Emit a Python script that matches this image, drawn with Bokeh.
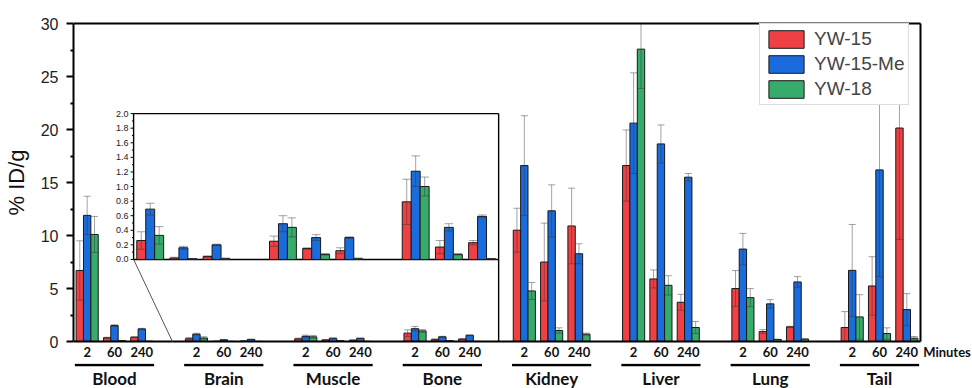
from bokeh.plotting import figure
from bokeh.layouts import column
from bokeh.models import (Range1d, FixedTicker, ColumnDataSource, Legend, LegendItem)
from bokeh.core.properties import value
from bokeh.embed import file_html
from bokeh.resources import INLINE

# ---------------- data ----------------
organs = ["Blood", "Brain", "Muscle", "Bone", "Kidney", "Liver", "Lung", "Tail"]
times = ["2", "60", "240"]
time_unit = "Minutes"
series_names = ["YW-15", "YW-15-Me", "YW-18"]

yw15 = [6.7, 0.35, 0.41, 0.26, 0.02, 0.04, 0.25, 0.15, 0.12, 0.79, 0.17, 0.23,
        10.5, 7.5, 10.9, 16.6, 5.9, 3.7, 5.0, 0.94, 1.38, 1.32, 5.24, 20.14]
yw15_err = [2.8, 0.05, 0.03, 0.12, 0.01, 0.01, 0.07, 0.01, 0.04, 0.31, 0.09, 0.03,
            2.07, 3.67, 3.57, 3.36, 0.85, 0.75, 1.69, 0.19, 0.05, 1.5, 2.76, 10.5]
yw15me = [11.9, 1.5, 1.19, 0.69, 0.16, 0.2, 0.49, 0.30, 0.30, 1.21, 0.44, 0.59,
          16.6, 12.33, 8.28, 20.6, 18.64, 15.5, 8.72, 3.55, 5.62, 6.71, 16.19, 3.01]
yw15me_err = [1.8, 0.08, 0.05, 0.08, 0.02, 0.01, 0.11, 0.04, 0.01, 0.21, 0.05, 0.02,
              4.7, 2.45, 0.94, 4.75, 1.79, 0.35, 1.48, 0.4, 0.5, 4.33, 10.07, 1.51]
yw18 = [10.1, 0.08, 0.02, 0.33, 0.01, 0.01, 0.44, 0.07, 0.01, 1.00, 0.07, 0.01,
        4.77, 1.04, 0.69, 27.58, 5.3, 1.32, 4.14, 0.19, 0.22, 2.32, 0.75, 0.31]
yw18_err = [1.7, 0.02, 0.01, 0.12, 0.0, 0.01, 0.13, 0.01, 0.01, 0.13, 0.01, 0.0,
            0.8, 0.25, 0.1, 3.7, 0.91, 0.56, 0.85, 0.03, 0.05, 2.1, 0.54, 0.16]

main_ticks = [0, 5, 10, 15, 20, 25, 30]
inset_organs = ["Brain", "Muscle", "Bone"]
inset_ticks = [0.0, 0.2, 0.4, 0.6, 0.8, 1.0, 1.2, 1.4, 1.6, 1.8, 2.0]

# ---------------- styling / layout ----------------
colors = ["#EF4044", "#1A6BDB", "#37AB69"]
BAR_W = 0.27
CAP = 0.13
STEP = 4
LABEL_FONT = "Lato"
NUM_FONT = "Liberation Sans"

W, H = 972, 388
BOX_L, BOX_R, BOX_T, BOX_B = 73, 920, 23, 341      # axes box in pixels
PAD = 2                                             # frame padding around the box (px)
LEG_L, LEG_B = 759, 105                             # legend bottom-left in pixels
UNIT_CX = 946.5                                     # centre of the "Minutes" label (px)
TOP_H = 363                                         # height of the chart figure

YMAX = main_ticks[-1]
XA = -0.5
XB = STEP * (len(organs) - 1) + len(times) - 0.5
slot = (BOX_R - BOX_L) / (XB - XA)
ypp = (BOX_B - BOX_T) / YMAX
x_end = XB + (W - BOX_R) / slot
y_lo, y_hi = -PAD / ypp, YMAX + PAD / ypp
unit_x = XA + (UNIT_CX - BOX_L) / slot

# inset box position in main data coordinates
INSET_LEFT, INSET_RIGHT = 1.70, 15.06
INSET_BOTTOM, INSET_TOP = 7.74, 21.5
ZOOM_TO_X = 3.12

# rows below the axis (main data units)
LINE_Y0, LINE_Y1, ORGAN_Y = -2.34, -2.10, -3.52

series = [(yw15, yw15_err), (yw15me, yw15me_err), (yw18, yw18_err)]
x_pos = [STEP * i + j for i in range(len(organs)) for j in range(len(times))]

# ================= chart =================
p = figure(width=W, height=TOP_H, x_range=Range1d(XA, x_end), y_range=Range1d(y_lo, y_hi),
           output_backend="svg", toolbar_location=None,
           min_border_left=BOX_L, min_border_right=0, min_border_top=BOX_T - PAD,
           min_border_bottom=TOP_H - BOX_B - PAD)
p.grid.visible = False
p.outline_line_color = None
p.background_fill_color = "white"
p.border_fill_color = "white"

iu0, iu1 = -0.5, STEP * (len(inset_organs) - 1) + len(times) - 0.5
sx = (INSET_RIGHT - INSET_LEFT) / (iu1 - iu0)
sy = (INSET_TOP - INSET_BOTTOM) / (inset_ticks[-1] - inset_ticks[0])
p.extra_x_ranges = {"ix": Range1d(iu0 + (XA - INSET_LEFT) / sx, iu0 + (x_end - INSET_LEFT) / sx)}
p.extra_y_ranges = {"iy": Range1d((y_lo - INSET_BOTTOM) / sy, (y_hi - INSET_BOTTOM) / sy)}

err_kw = dict(line_color="#333333", line_alpha=0.45, line_width=1)


def draw_bars(xs_base, vals_list, clip_top, **rk):
    rends = []
    for k, ((vals, errs), col) in enumerate(zip(vals_list, colors)):
        off = (k - 1) * BAR_W
        xs = [x + off for x in xs_base]
        src = ColumnDataSource(dict(
            x=xs, top=vals,
            lo=[max(v - e, 0) for v, e in zip(vals, errs)],
            hi=[min(v + e, clip_top) for v, e in zip(vals, errs)],
            cl=[x - CAP for x in xs], cr=[x + CAP for x in xs]))
        r = p.vbar(x="x", top="top", bottom=0, width=BAR_W, source=src,
                   fill_color=col, line_color="#1a1a1a", line_width=1, **rk)
        p.segment("x", "lo", "x", "hi", source=src, **err_kw, **rk)
        p.segment("cl", "hi", "cr", "hi", source=src, **err_kw, **rk)
        p.segment("cl", "lo", "cr", "lo", source=src, **err_kw, **rk)
        rends.append(r)
    return rends


main_rends = draw_bars(x_pos, series, YMAX)

# axes box: bottom, top and right lines
p.segment(x0=[XA, XA, XB], y0=[0, YMAX, 0], x1=[XB, XB, XB], y1=[0, YMAX, YMAX],
          line_color="black", line_width=2)

# inset
p.quad(left=[INSET_LEFT], right=[INSET_RIGHT], bottom=[INSET_BOTTOM], top=[INSET_TOP],
       fill_color="white", line_color=None)
frame_kw = dict(line_color="black", line_width=1.4)
p.segment(x0=[INSET_LEFT, INSET_RIGHT, INSET_LEFT, INSET_LEFT],
          y0=[INSET_TOP, INSET_TOP, INSET_BOTTOM, INSET_BOTTOM],
          x1=[INSET_RIGHT, INSET_RIGHT, INSET_RIGHT, INSET_LEFT],
          y1=[INSET_TOP, 0, INSET_BOTTOM, INSET_TOP], **frame_kw)
p.segment(x0=[INSET_LEFT], y0=[INSET_BOTTOM], x1=[ZOOM_TO_X], y1=[0],
          line_color="#555555", line_width=1)

idx = [organs.index(o) for o in inset_organs]
inset_x = [STEP * m + j for m in range(len(inset_organs)) for j in range(len(times))]
inset_series = [([v[3 * i + j] for i in idx for j in range(3)],
                 [e[3 * i + j] for i in idx for j in range(3)]) for v, e in series]
draw_bars(inset_x, inset_series, inset_ticks[-1], x_range_name="ix", y_range_name="iy")

minor_inset = [(a + b) / 2 for a, b in zip(inset_ticks[:-1], inset_ticks[1:])]
p.segment(x0=[iu0] * len(inset_ticks), x1=[iu0 - 0.09] * len(inset_ticks),
          y0=inset_ticks, y1=inset_ticks, line_color="black", line_width=1,
          x_range_name="ix", y_range_name="iy")
p.segment(x0=[iu0] * len(minor_inset), x1=[iu0 - 0.05] * len(minor_inset),
          y0=minor_inset, y1=minor_inset, line_color="black", line_width=1,
          x_range_name="ix", y_range_name="iy")
p.text(x=[iu0] * len(inset_ticks), y=inset_ticks, text=[f"{t:.1f}" for t in inset_ticks],
       x_offset=-5, text_align="right", text_baseline="middle",
       text_font=value(NUM_FONT), text_font_size="9px", text_color="#222222",
       x_range_name="ix", y_range_name="iy")

# y axis
ya = p.yaxis[0]
ya.bounds = (0, YMAX)
ya.ticker = FixedTicker(ticks=main_ticks,
                        minor_ticks=[(a + b) / 2 for a, b in zip(main_ticks[:-1], main_ticks[1:])])
ya.axis_line_width = 2
ya.major_tick_line_width = 2
ya.minor_tick_line_width = 2
ya.major_tick_out = 7
ya.major_tick_in = 0
ya.minor_tick_out = 3
ya.minor_tick_in = 0
ya.major_label_text_font = NUM_FONT
ya.major_label_text_font_size = "16px"
ya.major_label_text_color = "#222222"
ya.major_label_standoff = 8
ya.axis_label = "% ID/g"
ya.axis_label_text_font = NUM_FONT
ya.axis_label_text_font_size = "22px"
ya.axis_label_text_font_style = "normal"
ya.axis_label_text_color = "#111111"
ya.axis_label_standoff = 9

# x axis: time points (+ unit label)
xa = p.xaxis[0]
xa.ticker = FixedTicker(ticks=x_pos + [unit_x])
overrides = {x: times[k % 3] for k, x in enumerate(x_pos)}
overrides[unit_x] = time_unit
xa.major_label_overrides = overrides
xa.axis_line_color = None
xa.major_tick_line_color = None
xa.minor_tick_line_color = None
xa.major_tick_out = 0
xa.major_tick_in = 0
xa.major_label_text_font = LABEL_FONT
xa.major_label_text_font_style = "bold"
xa.major_label_text_font_size = "13px"
xa.major_label_text_color = "#111111"
xa.major_label_standoff = 0

legend = Legend(items=[LegendItem(label=n, renderers=[r]) for n, r in zip(series_names, main_rends)],
                location=(LEG_L - BOX_L, BOX_B + PAD - LEG_B), margin=0, padding=4, spacing=3,
                glyph_width=44, glyph_height=22, label_standoff=6,
                label_text_font=NUM_FONT, label_text_font_size="19px",
                border_line_color="#BBBBBB", border_line_width=1,
                background_fill_color="white", background_fill_alpha=1)
p.add_layout(legend)

# ================= organ labels strip =================
q = figure(width=W, height=H - TOP_H, x_range=Range1d(XA, x_end),
           y_range=Range1d(-(H - BOX_B) / ypp, -(TOP_H - BOX_B) / ypp),
           output_backend="svg", toolbar_location=None,
           x_axis_location=None, y_axis_location=None,
           min_border_left=BOX_L, min_border_right=0, min_border_top=0, min_border_bottom=0)
q.grid.visible = False
q.outline_line_color = None
q.background_fill_color = "white"
q.border_fill_color = "white"

for fig in (p, q):
    try:
        fig.frame_align = False
    except Exception:
        pass

q.quad(left=[STEP * i - 0.45 for i in range(len(organs))],
       right=[STEP * i + 2.45 for i in range(len(organs))],
       bottom=[LINE_Y0] * len(organs), top=[LINE_Y1] * len(organs),
       fill_color="black", line_color=None)
q.text(x=[STEP * i + 1 for i in range(len(organs))], y=[ORGAN_Y] * len(organs), text=organs,
       text_align="center", text_baseline="middle", text_font=value(LABEL_FONT),
       text_font_style="bold", text_font_size="17px", text_color="#111111")

layout = column(p, q, spacing=0)
open("out.html", "w").write(file_html(layout, INLINE))
